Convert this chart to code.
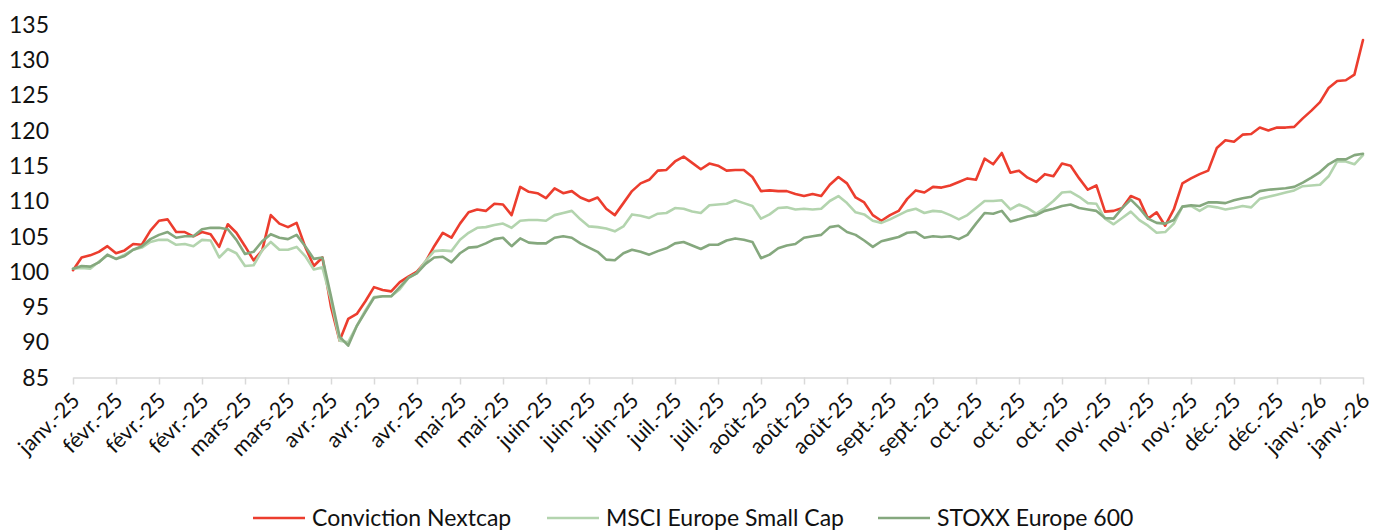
<!DOCTYPE html>
<html>
<head>
<meta charset="utf-8">
<script src="https://cdn.jsdelivr.net/npm/d3@7"></script>
<style>
  body { margin: 0; background: #fff; }
  svg { display: block; font-family: Lato, "Open Sans", sans-serif; }
</style>
</head>
<body>
<svg id="chart"></svg>
<script>
const WIDTH = 1374;
const HEIGHT = 531;
const LEFT = 73;
const RIGHT = 1363;
const TOP = 24.5;
const BOTTOM = 377.5;

// tick labels along the x axis (one every 5 samples)
const tickLabels = [
  "janv.-25", "févr.-25", "févr.-25", "févr.-25", "mars-25", "mars-25",
  "avr.-25", "avr.-25", "avr.-25", "mai-25", "mai-25", "juin-25",
  "juin-25", "juin-25", "juil.-25", "juil.-25", "août-25", "août-25",
  "août-25", "sept.-25", "sept.-25", "oct.-25", "oct.-25", "oct.-25",
  "nov.-25", "nov.-25", "nov.-25", "déc.-25", "déc.-25", "janv.-26",
  "janv.-26"
];

const seriesNames = ["Conviction Nextcap", "MSCI Europe Small Cap", "STOXX Europe 600"];
const seriesColors = ["#ec3d2e", "#b3d4ae", "#85a87e"];

const conviction = [
  100.2, 102.0, 102.3, 102.8, 103.6, 102.6, 103.0, 103.9, 103.8, 105.8,
  107.2, 107.4, 105.6, 105.6, 105.0, 105.6, 105.3, 103.5, 106.7, 105.5,
  103.6, 101.6, 103.0, 108.0, 106.8, 106.3, 106.9, 103.5, 100.8, 102.0,
  95.0, 90.2, 93.3, 94.0, 95.8, 97.8, 97.4, 97.2, 98.5, 99.3,
  100.0, 101.4, 103.6, 105.5, 104.8, 106.8, 108.4, 108.8, 108.6, 109.6,
  109.5, 108.0, 112.0, 111.3, 111.1, 110.4, 111.8, 111.1, 111.4, 110.5,
  110.0, 110.5, 108.9, 108.0, 109.7, 111.4, 112.5, 113.0, 114.3, 114.4,
  115.6, 116.3, 115.4, 114.5, 115.3, 115.0, 114.3, 114.4, 114.4, 113.4,
  111.4, 111.5, 111.4, 111.4, 111.0, 110.7, 111.0, 110.7, 112.3, 113.4,
  112.5, 110.5, 109.8, 108.0, 107.2, 108.0, 108.6, 110.3, 111.5, 111.2,
  112.0, 111.9, 112.2, 112.7, 113.2, 113.0, 116.0, 115.2, 116.8, 114.0,
  114.3, 113.3, 112.7, 113.8, 113.5, 115.3, 115.0, 113.2, 111.6, 112.2,
  108.5, 108.6, 109.0, 110.7, 110.2, 107.5, 108.4, 106.5, 108.8, 112.5,
  113.2, 113.8, 114.3, 117.5, 118.6, 118.4, 119.4, 119.5, 120.4, 120.0,
  120.4, 120.4, 120.5, 121.7, 122.8, 124.0, 126.0, 127.0, 127.1, 127.9,
  132.8
];

const msci = [
  100.4, 100.5, 100.4, 101.4, 102.3, 101.8, 102.4, 103.1, 103.4, 104.2,
  104.5, 104.5, 103.8, 103.9, 103.6, 104.5, 104.4, 102.0, 103.2, 102.6,
  100.8, 100.9, 103.0, 104.2, 103.1, 103.1, 103.5, 102.2, 100.3, 100.6,
  96.0, 90.2, 90.0, 92.3, 94.5, 96.4, 96.5, 96.5, 97.5, 99.1,
  99.8, 101.5, 102.9, 103.0, 102.9, 104.5, 105.5, 106.2, 106.3, 106.6,
  106.8, 106.2, 107.2, 107.3, 107.3, 107.2, 108.0, 108.3, 108.6, 107.4,
  106.4, 106.3, 106.1, 105.7, 106.4, 108.1, 107.9, 107.6, 108.2, 108.3,
  109.0, 108.9, 108.5, 108.3, 109.4, 109.5, 109.6, 110.1, 109.7, 109.3,
  107.5, 108.1, 109.0, 109.1, 108.8, 108.9, 108.8, 108.9, 110.0, 110.7,
  109.7, 108.4, 108.1, 107.2, 106.9, 107.4, 108.0, 108.6, 108.9, 108.3,
  108.6, 108.5, 108.0, 107.4, 108.0, 109.0, 110.0, 110.0, 110.1, 108.8,
  109.5, 109.0, 108.2, 109.0, 110.0, 111.2, 111.3, 110.6, 109.7, 109.6,
  107.5, 106.7, 107.6, 108.5, 107.3, 106.5, 105.5, 105.6, 106.8, 109.2,
  109.3, 108.6, 109.3, 109.1, 108.8, 109.0, 109.3, 109.1, 110.3, 110.6,
  110.9, 111.2, 111.5, 112.1, 112.2, 112.3, 113.5, 115.6, 115.6, 115.2,
  116.5
];

const stoxx = [
  100.4, 100.8, 100.7, 101.3, 102.4, 101.8, 102.2, 103.1, 103.6, 104.6,
  105.2, 105.6, 104.8, 105.0, 105.0, 106.0, 106.2, 106.2, 106.0, 104.5,
  102.5, 102.8, 104.3, 105.3, 104.8, 104.6, 105.2, 103.6, 101.8, 102.0,
  96.5, 90.8, 89.5, 92.3, 94.3, 96.3, 96.5, 96.5, 97.8, 99.1,
  99.8, 101.1, 102.0, 102.1, 101.3, 102.6, 103.4, 103.5, 104.0, 104.6,
  104.8, 103.6, 104.7, 104.1, 104.0, 104.0, 104.8, 105.0, 104.8, 104.0,
  103.4, 102.8, 101.7, 101.6, 102.6, 103.1, 102.8, 102.4, 102.9, 103.3,
  104.0, 104.2, 103.7, 103.2, 103.8, 103.8, 104.4, 104.7, 104.5, 104.2,
  101.9, 102.4, 103.3, 103.7, 103.9, 104.8, 105.0, 105.2, 106.3, 106.5,
  105.6, 105.2, 104.4, 103.5, 104.3, 104.6, 104.9, 105.5, 105.6, 104.8,
  105.0, 104.9, 105.0, 104.6, 105.2, 106.8, 108.3, 108.2, 108.6, 107.1,
  107.4, 107.8, 108.0, 108.6, 108.9, 109.3, 109.5, 109.0, 108.8, 108.6,
  107.6, 107.5, 109.0, 110.2, 109.0, 107.5, 106.9, 106.8, 107.3, 109.2,
  109.4, 109.3, 109.8, 109.8, 109.7, 110.1, 110.4, 110.6, 111.4, 111.6,
  111.7, 111.8, 112.0, 112.6, 113.3, 114.1, 115.2, 115.9, 115.9, 116.5,
  116.7
];

const yTicks = [85, 90, 95, 100, 105, 110, 115, 120, 125, 130, 135];

const svg = d3
  .select("#chart")
  .attr("width", WIDTH)
  .attr("height", HEIGHT);

const xScale = d3
  .scaleLinear()
  .domain([0, conviction.length - 1])
  .range([LEFT, RIGHT]);

const yScale = d3
  .scaleLinear()
  .domain([85, 135])
  .range([BOTTOM, TOP]);

// y labels, no axis line
svg
  .append("g")
  .selectAll("text")
  .data(yTicks)
  .enter()
  .append("text")
  .attr("x", 49)
  .attr("y", d => yScale(d))
  .attr("dy", "0.36em")
  .attr("text-anchor", "end")
  .attr("font-size", 23)
  .attr("fill", "#111")
  .text(d => d);

// x axis with a tick every 5 samples
const tickValues = tickLabels.map((_, i) => i * 5);

const xAxis = svg
  .append("g")
  .attr("transform", `translate(0, ${BOTTOM})`)
  .call(
    d3
      .axisBottom(xScale)
      .tickValues(tickValues)
      .tickSize(7)
      .tickSizeOuter(0)
      .tickFormat((_, i) => tickLabels[i])
  );

xAxis.select(".domain").attr("stroke", "#d9d9d9").attr("stroke-width", 1.5);
xAxis.selectAll(".tick line").attr("stroke", "#d9d9d9").attr("stroke-width", 1.5);
xAxis
  .selectAll(".tick text")
  .attr("font-family", "Lato, sans-serif")
  .attr("font-size", 21.5)
  .attr("fill", "#111")
  .attr("text-anchor", "end")
  .attr("x", 0)
  .attr("y", 0)
  .attr("dy", "0.36em")
  .attr("transform", "translate(2, 19) rotate(-45)");

const line = d3
  .line()
  .x((_, i) => xScale(i))
  .y(d => yScale(d));

const allSeries = [conviction, msci, stoxx];

svg
  .append("g")
  .selectAll("path")
  .data(allSeries)
  .enter()
  .append("path")
  .attr("d", d => line(d))
  .attr("fill", "none")
  .attr("stroke", (_, i) => seriesColors[i])
  .attr("stroke-width", 2.6)
  .attr("stroke-linejoin", "round")
  .attr("stroke-linecap", "round");

// legend
const legendX = [253, 547, 878];

const legend = svg
  .append("g")
  .selectAll("g")
  .data(seriesNames)
  .enter()
  .append("g")
  .attr("transform", (_, i) => `translate(${legendX[i]}, 518)`);

legend
  .append("line")
  .attr("x1", 0)
  .attr("x2", 52)
  .attr("stroke", (_, i) => seriesColors[i])
  .attr("stroke-width", 2.6);

legend
  .append("text")
  .attr("x", 59)
  .attr("dy", "0.36em")
  .attr("font-size", 23)
  .attr("fill", "#111")
  .text(d => d);
</script>
</body>
</html>
